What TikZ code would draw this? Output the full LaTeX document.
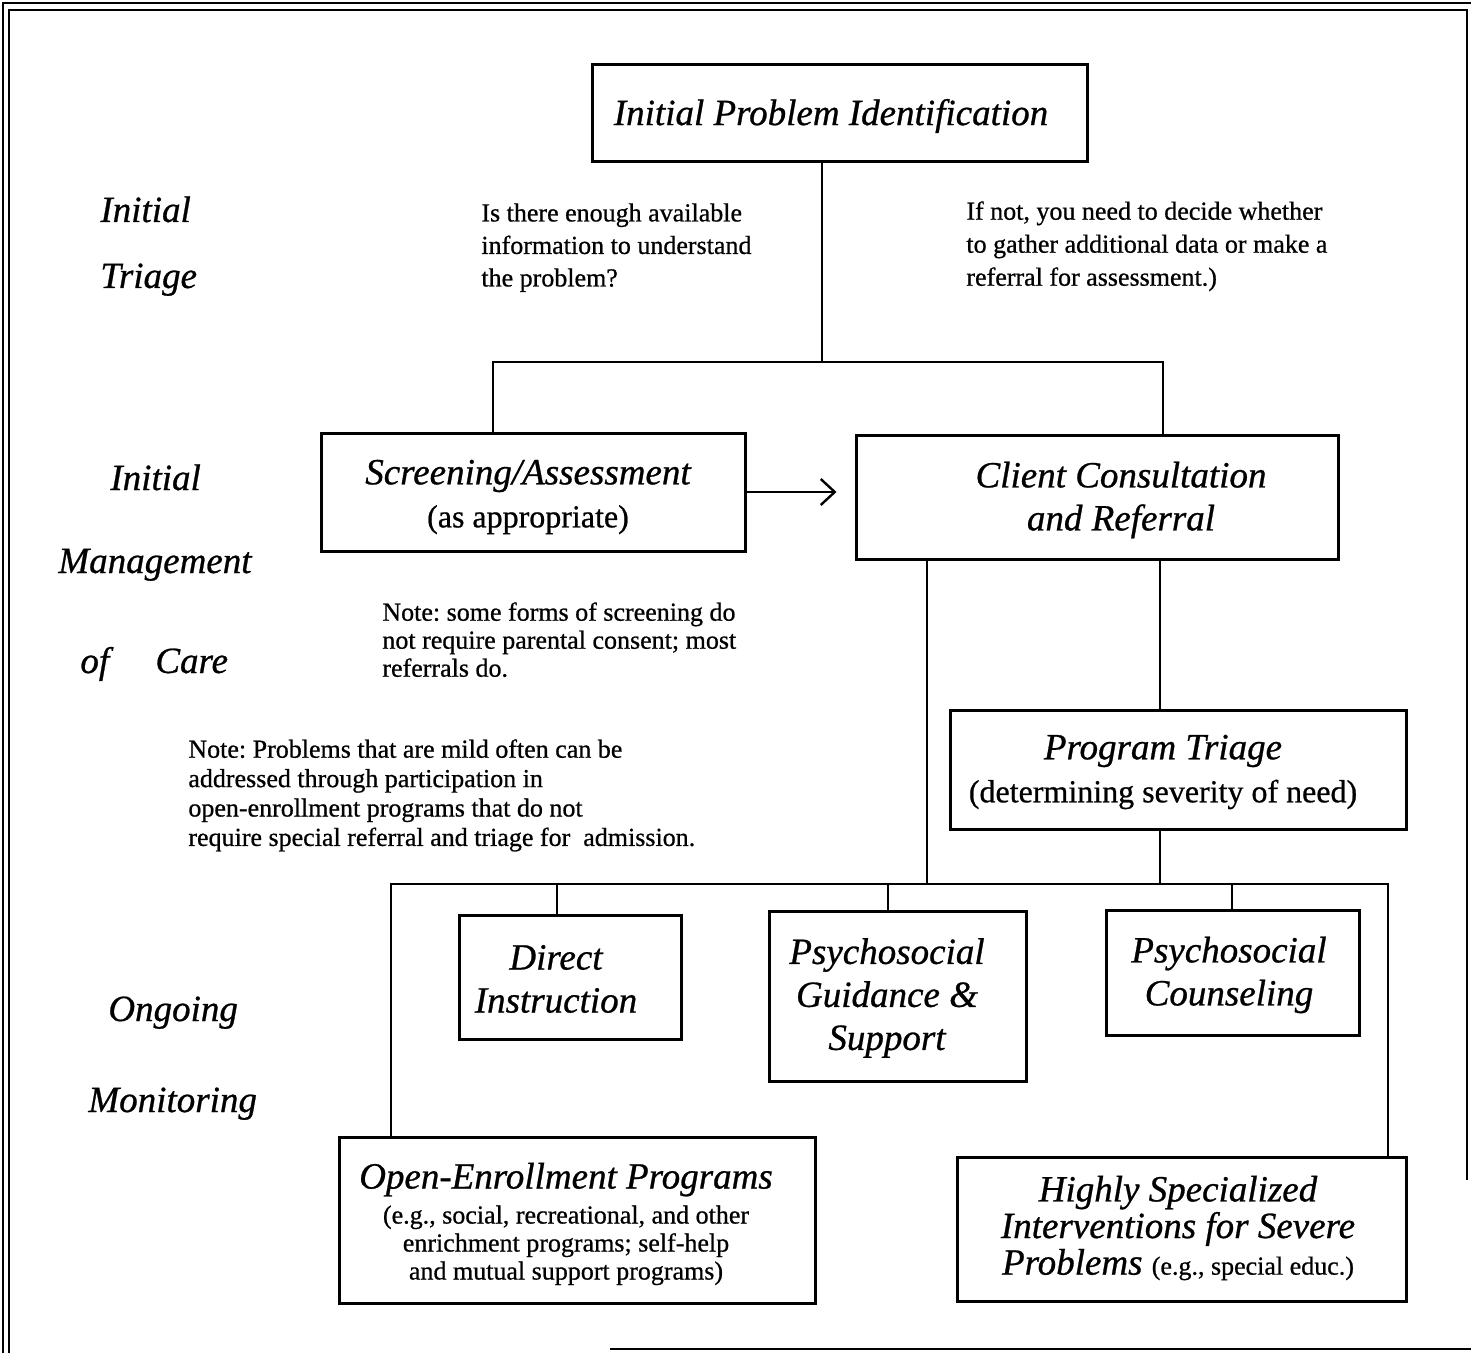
\documentclass[tikz,border=0pt]{standalone}
\usepackage{fontspec}
\setmainfont[FakeBold=0.7]{Liberation Serif}
\usetikzlibrary{arrows.meta}
\begin{document}
\frenchspacing
\begin{tikzpicture}[x=0.5pt,y=-0.5pt,
  box/.style={draw, line width=1.5pt, inner sep=0pt},
  conn/.style={line width=1.2pt},
  frameline/.style={line width=1.2pt},
  head/.style={font=\fontsize{18.5}{21.5}\selectfont\itshape, align=center, inner sep=0pt},
  note/.style={font=\fontsize{13}{15}\selectfont, align=left, inner sep=0pt, anchor=north west},
  side/.style={font=\fontsize{18.5}{22}\selectfont\itshape, inner sep=0pt, anchor=base west},
]
\fill[white] (0,0) rectangle (1471,1353);
\useasboundingbox (0,0) rectangle (1471,1353);

% frame
\draw[frameline] (3,1353) -- (3,3) -- (1471,3);
\draw[frameline] (9,1353) -- (9,10) -- (1467,10) -- (1467,1180);
\draw[frameline] (610,1349) -- (1471,1349);

% side labels
\node[side] (s1a) at (100,222) {Initial};
\node[side] (s1b) at (100,288) {Triage};
\node[side] (s2a) at (110,490) {Initial};
\node[side] (s2b) at (58,573) {Management};
\node[side] (s2c) at (80,673) {of};
\node[side] (s2d) at (155,673) {Care};
\node[side] (s3a) at (108,1021) {Ongoing};
\node[side] (s3b) at (88,1112) {Monitoring};

% boxes
\node[box, minimum width=247.5pt, minimum height=48.5pt] (ipi) at (839.5,113.5) {};
\node[box, minimum width=212pt, minimum height=59pt] (scr) at (533,492) {};
\node[box, minimum width=241pt, minimum height=62pt] (ccr) at (1097,497) {};
\node[box, minimum width=228pt, minimum height=59.5pt] (pt) at (1178,769.5) {};
\node[box, minimum width=111pt, minimum height=62pt] (di) at (570,977) {};
\node[box, minimum width=128.5pt, minimum height=85pt] (pgs) at (897.5,996) {};
\node[box, minimum width=126.5pt, minimum height=62.5pt] (pc) at (1232.5,972.5) {};
\node[box, minimum width=238pt, minimum height=83pt] (oep) at (577,1220) {};
\node[box, minimum width=224.5pt, minimum height=72pt] (hsi) at (1181.5,1229) {};

% box texts
\node[head] (ipit) at (831,116) {Initial Problem Identification};
\node[head] (scrt) at (528,497) {Screening/Assessment\\{\upshape\fontsize{16}{21.5}\selectfont (as appropriate)}};
\node[head] (ccrt) at (1121,500) {Client Consultation\\and Referral};
\node[head] (ptt) at (1163,772) {Program Triage\\{\upshape\fontsize{16}{21.5}\selectfont (determining severity of need)}};
\node[head] (dit) at (556,979) {Direct\\Instruction};
\node[head] (pgst) at (887,998) {Psychosocial\\Guidance \&\\Support};
\node[head] (pct) at (1229,975) {Psychosocial\\Counseling};
\node[head, font=\fontsize{18.5}{14}\selectfont\itshape] (oept) at (566,1224)
  {Open-Enrollment Programs\\[3.5pt]
   \upshape\fontsize{13}{14}\selectfont (e.g., social, recreational, and other\\
   \upshape\fontsize{13}{14}\selectfont enrichment programs; self-help\\
   \upshape\fontsize{13}{14}\selectfont and mutual support programs)};
\node[head, font=\fontsize{18.5}{18.3}\selectfont\itshape] (hsit) at (1178,1228)
  {Highly Specialized\\Interventions for Severe\\Problems {\upshape\fontsize{13}{18.3}\selectfont (e.g., special educ.)}};

% notes
\node[note, font=\fontsize{13}{16.25}\selectfont] (n1) at (481,203)
  {Is there enough available\\information to understand\\the problem?};
\node[note, font=\fontsize{13}{16.5}\selectfont] (n2) at (966,201)
  {If not, you need to decide whether\\to gather additional data or make a\\referral for assessment.)};
\node[note, font=\fontsize{13}{14}\selectfont] (n3) at (382,602)
  {Note: some forms of screening do\\not require parental consent; most\\referrals do.};
\node[note, font=\fontsize{13}{14.7}\selectfont] (n4) at (188,739)
  {Note: Problems that are mild often can be\\addressed through participation in\\open-enrollment programs that do not\\require special referral and triage for\ \ admission.};

% connectors
\coordinate (t1) at (822,362);
\coordinate (tl) at (493,362);
\coordinate (tr) at (1163,362);
\draw[conn] (ipi.south -| t1) -- (t1);
\draw[conn] (scr.north -| tl) -- (tl) -- (tr) -- (ccr.north -| tr);
\draw[conn, -{Straight Barb[length=7pt,width=13pt]}, shorten >=9pt] (scr.east) -- (scr.east -| ccr.west);

\coordinate (b1) at (927,884);
\coordinate (b2) at (1160,884);
\coordinate (bl) at (391,884);
\coordinate (br) at (1388,884);
\draw[conn] (ccr.south -| b1) -- (b1);
\draw[conn] (ccr.south -| b2) -- (pt.north -| b2);
\draw[conn] (pt.south -| b2) -- (b2);
\draw[conn] (oep.north -| bl) -- (bl) -- (br) -- (hsi.north -| br);

\coordinate (d1) at (557,884);
\coordinate (d2) at (888,884);
\coordinate (d3) at (1232,884);
\draw[conn] (d1) -- (di.north -| d1);
\draw[conn] (d2) -- (pgs.north -| d2);
\draw[conn] (d3) -- (pc.north -| d3);
\end{tikzpicture}
\end{document}
